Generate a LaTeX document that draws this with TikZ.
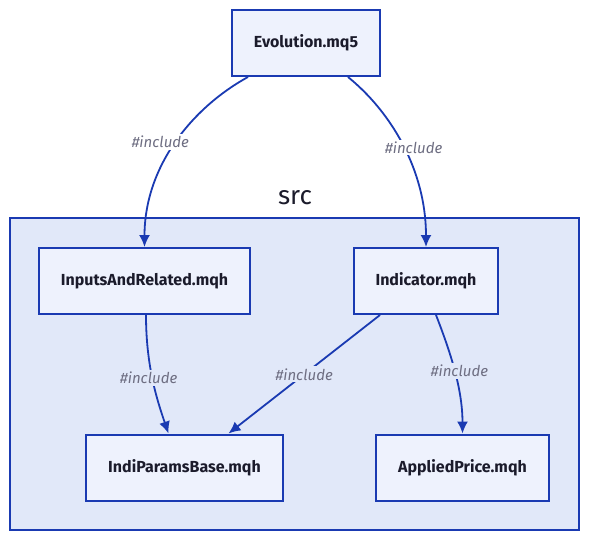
\documentclass[tikz,border=0pt]{standalone}
\usepackage{fontspec}
\setmainfont{Fira Sans}
\usetikzlibrary{arrows.meta, positioning}
\definecolor{edgeblue}{HTML}{1A3AB2}
\definecolor{srcfill}{HTML}{E1E8F9}
\definecolor{filefill}{HTML}{EEF2FD}
\definecolor{filetext}{HTML}{1B1B2B}
\definecolor{incgray}{HTML}{6E6E82}

\begin{document}
\begin{tikzpicture}[x=1pt, y=-1pt,
        file/.style={draw=edgeblue, line width=2pt, fill=filefill, text=filetext, font=\fontsize{16}{19}\selectfont\bfseries, minimum height=66pt, inner xsep=22pt},
        inc/.style={font=\fontsize{15}{18}\selectfont\itshape, text=incgray, fill=white, inner sep=2pt},
        incin/.style={inc, fill=srcfill},
        link/.style={draw=edgeblue, line width=1.8pt, -{Latex[length=12pt, width=11pt]}}]
        \useasboundingbox (0,0) rectangle (590,542);
        % src folder
        \node[draw=edgeblue, line width=2pt, fill=srcfill, minimum width=569pt, minimum height=312pt] (src) at (294.5,374) {};
        \node[font=\fontsize{26}{30}\selectfont, text=filetext, anchor=base] (srclabel) at (295,204) {src};
        
        \node[file] (evo) at (306,43) {Evolution.mq5};
        \node[file] (inputs) at (144.5,281) {InputsAndRelated.mqh};
        \node[file] (ind) at (426,281) {Indicator.mqh};
        \node[file] (params) at (184.5,467.5) {IndiParamsBase.mqh};
        \node[file] (price) at (462.5,467.5) {AppliedPrice.mqh};
        
        \draw[link] ([xshift=-58pt]evo.south) .. controls +(-53,29) and +(0,-83) .. (inputs.north) node[inc, pos=0.5, xshift=-16pt] {\#include};
        \draw[link] ([xshift=42pt]evo.south) .. controls +(42,34) and +(0,-78) .. (ind.north) node[inc, pos=0.5, xshift=11pt, yshift=-2pt] {\#include};
        \draw[link] ([xshift=1.5pt]inputs.south) .. controls +(0,50) and +(-12,-35) .. ([xshift=-16pt]params.north) node[incin, pos=0.5, xshift=-4pt, yshift=2pt] {\#include};
        \draw[link] ([xshift=-46pt]ind.south) -- ([xshift=44pt]params.north) node[incin, pos=0.5] {\#include};
        \draw[link] ([xshift=10pt]ind.south) .. controls +(14,36) and +(0,-45) .. (price.north) node[incin, pos=0.5, xshift=5pt] {\#include};
    \end{tikzpicture}
\end{document}
